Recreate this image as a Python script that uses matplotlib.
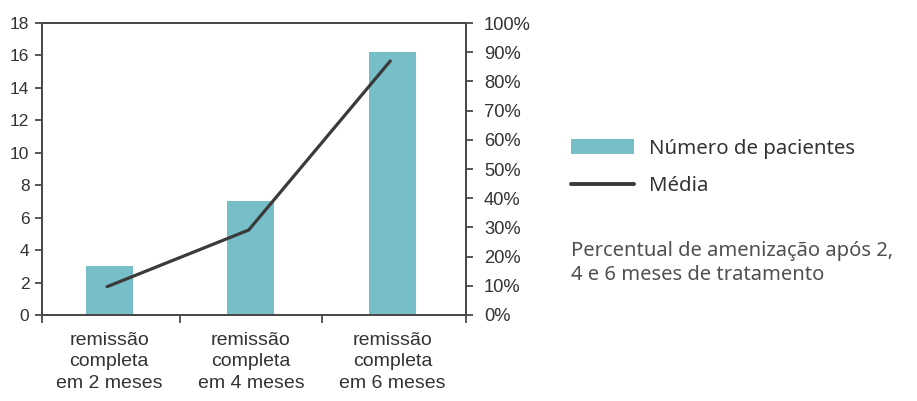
import matplotlib
matplotlib.use("Agg")
import matplotlib.pyplot as plt
from matplotlib.patches import Patch
from matplotlib.lines import Line2D
from matplotlib.ticker import FixedLocator, PercentFormatter

# Data
categories = ["remissão\ncompleta\nem 2 meses",
              "remissão\ncompleta\nem 4 meses",
              "remissão\ncompleta\nem 6 meses"]
patients = [3, 7, 16.2]
mean_pct = [9.7, 29.1, 87.0]
left_ticks = [0, 2, 4, 6, 8, 10, 12, 14, 16, 18]
right_ticks = [0, 10, 20, 30, 40, 50, 60, 70, 80, 90, 100]

bar_color = "#76bfc9"
line_color = "#3a3a3a"
axis_color = "#4a4a4a"
text_color = "#333333"
tick_font = "Liberation Sans"
note_font = "Noto Sans"

fig = plt.figure(figsize=(9.17, 4.01), dpi=100)
ax = fig.add_axes([0.0458, 0.2145, 0.4624, 0.7281])
ax2 = ax.twinx()

x = list(range(len(categories)))
ax.bar(x, patients, width=0.33, color=bar_color, zorder=2)
ax2.plot([v - 0.015 for v in x], mean_pct, color=line_color, lw=2.3,
         solid_capstyle="round", solid_joinstyle="miter", zorder=3)

ax.set_xlim(-0.475, 2.52)
ax.set_ylim(0, 18)
ax2.set_ylim(0, 100)
ax.set_yticks(left_ticks)
ax2.set_yticks(right_ticks)
ax2.yaxis.set_major_formatter(PercentFormatter(decimals=0))

ax.set_xticks(x)
ax.set_xticklabels(categories, fontsize=14, family=tick_font, color=text_color,
                   linespacing=1.36)
ax.tick_params(axis="x", which="major", length=0, pad=12)
ax.xaxis.set_minor_locator(FixedLocator([-0.475, 0.5, 1.5, 2.52]))
ax.tick_params(axis="x", which="minor", length=6, width=1.3, color=axis_color)

for a in (ax, ax2):
    for s in a.spines.values():
        s.set_color(axis_color)
        s.set_linewidth(1.4)
    a.tick_params(axis="y", length=5, width=1.3, color=axis_color,
                  labelcolor=text_color)
ax.tick_params(axis="y", labelsize=12.5, pad=4)
ax2.tick_params(axis="y", labelsize=13.2, pad=8)
for lbl in ax.get_yticklabels() + ax2.get_yticklabels():
    lbl.set_family(tick_font)

handles = [Patch(facecolor=bar_color, edgecolor="none", label="Número de pacientes"),
           Line2D([], [], color=line_color, lw=2.8, solid_capstyle="round", label="Média")]
fig.legend(handles=handles, loc="upper left", bbox_to_anchor=(0.6227, 0.654),
           frameon=False, prop={"family": note_font, "size": 14.7},
           labelcolor=text_color, handlelength=3.1, handleheight=0.75,
           handletextpad=0.7, labelspacing=0.85, borderaxespad=0, borderpad=0)

fig.text(0.6227, 0.40, "Percentual de amenização após 2,\n4 e 6 meses de tratamento",
         family=note_font, fontsize=14.5, color="#505050", va="top", ha="left",
         linespacing=1.32)

fig.savefig("out.png", dpi=100)
